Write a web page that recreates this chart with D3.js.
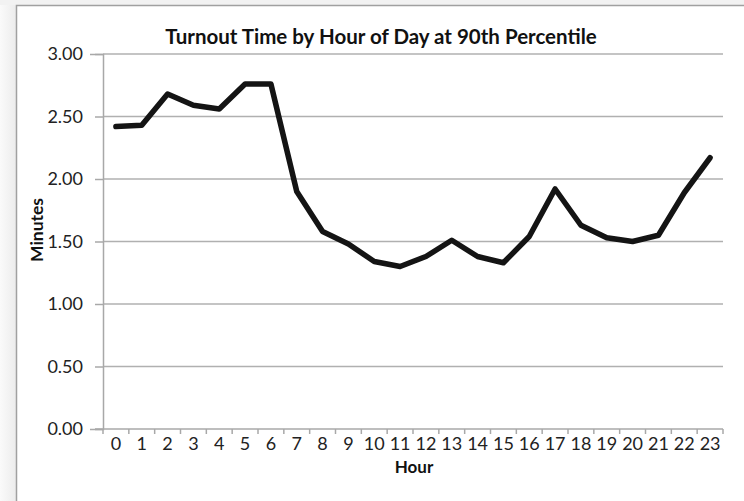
<!DOCTYPE html>
<html>
<head>
<meta charset="utf-8">
<script src="https://cdn.jsdelivr.net/npm/d3@7"></script>
<style>
  body { margin: 0; background: #fff; }
  svg { display: block; }
</style>
</head>
<body>
<svg width="744" height="501"></svg>
<script>
// Data
const hours = d3.range(0, 24);
const minutes = [2.42, 2.43, 2.68, 2.59, 2.56, 2.76, 2.76, 1.90, 1.58, 1.48, 1.34, 1.30,
  1.38, 1.51, 1.38, 1.33, 1.54, 1.92, 1.63, 1.53, 1.50, 1.55, 1.89, 2.17];
const yTicks = [0, 0.5, 1, 1.5, 2, 2.5, 3];
const title = "Turnout Time by Hour of Day at 90th Percentile";

const svg = d3.select("svg"),
  width = +svg.attr("width"),
  height = +svg.attr("height");

const font = "Lato, 'Open Sans', sans-serif";

// background shadow + frame
const grad = svg.append("defs").append("linearGradient")
  .attr("id", "shade").attr("x1", 0).attr("x2", 1);
grad.append("stop").attr("offset", 0).attr("stop-color", "#fafafa");
grad.append("stop").attr("offset", 1).attr("stop-color", "#ececec");
svg.append("rect").attr("width", 16).attr("height", height).attr("fill", "url(#shade)");
svg.append("rect").attr("width", width).attr("height", 5).attr("fill", "#f2f2f2");
svg.append("rect")
  .attr("x", 16.5).attr("y", 5.5)
  .attr("width", width).attr("height", height)
  .attr("fill", "#fff")
  .attr("stroke", "#a0a0a0")
  .attr("stroke-width", 1.5);

const margin = { left: 103, right: 21, top: 54, bottom: 72 };

const x = d3.scaleBand()
  .domain(hours)
  .range([margin.left, width - margin.right]);

const y = d3.scaleLinear()
  .domain([0, 3])
  .range([height - margin.bottom, margin.top]);

// gridlines
svg.append("g")
  .selectAll("line")
  .data(yTicks.filter(d => d > 0))
  .join("line")
  .attr("x1", margin.left).attr("x2", width - margin.right)
  .attr("y1", d => y(d)).attr("y2", d => y(d))
  .attr("stroke", "#b0b0b0")
  .attr("stroke-width", 1.5);

// y axis
const yAxis = svg.append("g")
  .attr("transform", `translate(${margin.left},0)`)
  .call(d3.axisLeft(y).tickValues(yTicks).tickFormat(d3.format(".2f")).tickSize(13).tickPadding(8));
yAxis.select(".domain").attr("stroke", "#a8a8a8").attr("stroke-width", 1.5);
yAxis.selectAll(".tick line").attr("stroke", "#a8a8a8").attr("stroke-width", 1.5)
  .attr("x2", -8);
yAxis.selectAll("text")
  .attr("x", -20)
  .style("font-family", font).style("font-size", "18px").attr("fill", "#222");

// x axis
const xAxis = svg.append("g")
  .attr("transform", `translate(0,${y(0)})`)
  .call(d3.axisBottom(x).tickSize(0).tickPadding(8));
xAxis.select(".domain").remove();
xAxis.append("line")
  .attr("x1", margin.left - 8).attr("x2", width - margin.right)
  .attr("stroke", "#a8a8a8").attr("stroke-width", 1.5);
xAxis.append("g")
  .selectAll("line")
  .data(hours.concat([24]))
  .join("line")
  .attr("x1", d => margin.left + d * x.step())
  .attr("x2", d => margin.left + d * x.step())
  .attr("y1", 0).attr("y2", 5)
  .attr("stroke", "#a8a8a8").attr("stroke-width", 1.5);
xAxis.selectAll(".tick text")
  .style("font-family", font).style("font-size", "18px").attr("fill", "#222");

// line
const line = d3.line()
  .x((d, i) => x(hours[i]) + x.bandwidth() / 2)
  .y(d => y(d));

svg.append("path")
  .datum(minutes)
  .attr("d", line)
  .attr("fill", "none")
  .attr("stroke", "#141414")
  .attr("stroke-width", 5.5)
  .attr("stroke-linejoin", "round")
  .attr("stroke-linecap", "round");

// title and axis titles
svg.append("text")
  .attr("x", 381).attr("y", 44)
  .attr("text-anchor", "middle")
  .style("font-family", font).style("font-size", "20.5px").style("font-weight", "bold")
  .attr("fill", "#111")
  .text(title);

svg.append("text")
  .attr("x", 414).attr("y", 473)
  .attr("text-anchor", "middle")
  .style("font-family", font).style("font-size", "17px").style("font-weight", "bold")
  .attr("fill", "#111")
  .text("Hour");

svg.append("text")
  .attr("transform", "translate(43,230) rotate(-90)")
  .attr("text-anchor", "middle")
  .style("font-family", font).style("font-size", "17.5px").style("font-weight", "bold")
  .attr("fill", "#111")
  .text("Minutes");
</script>
</body>
</html>
